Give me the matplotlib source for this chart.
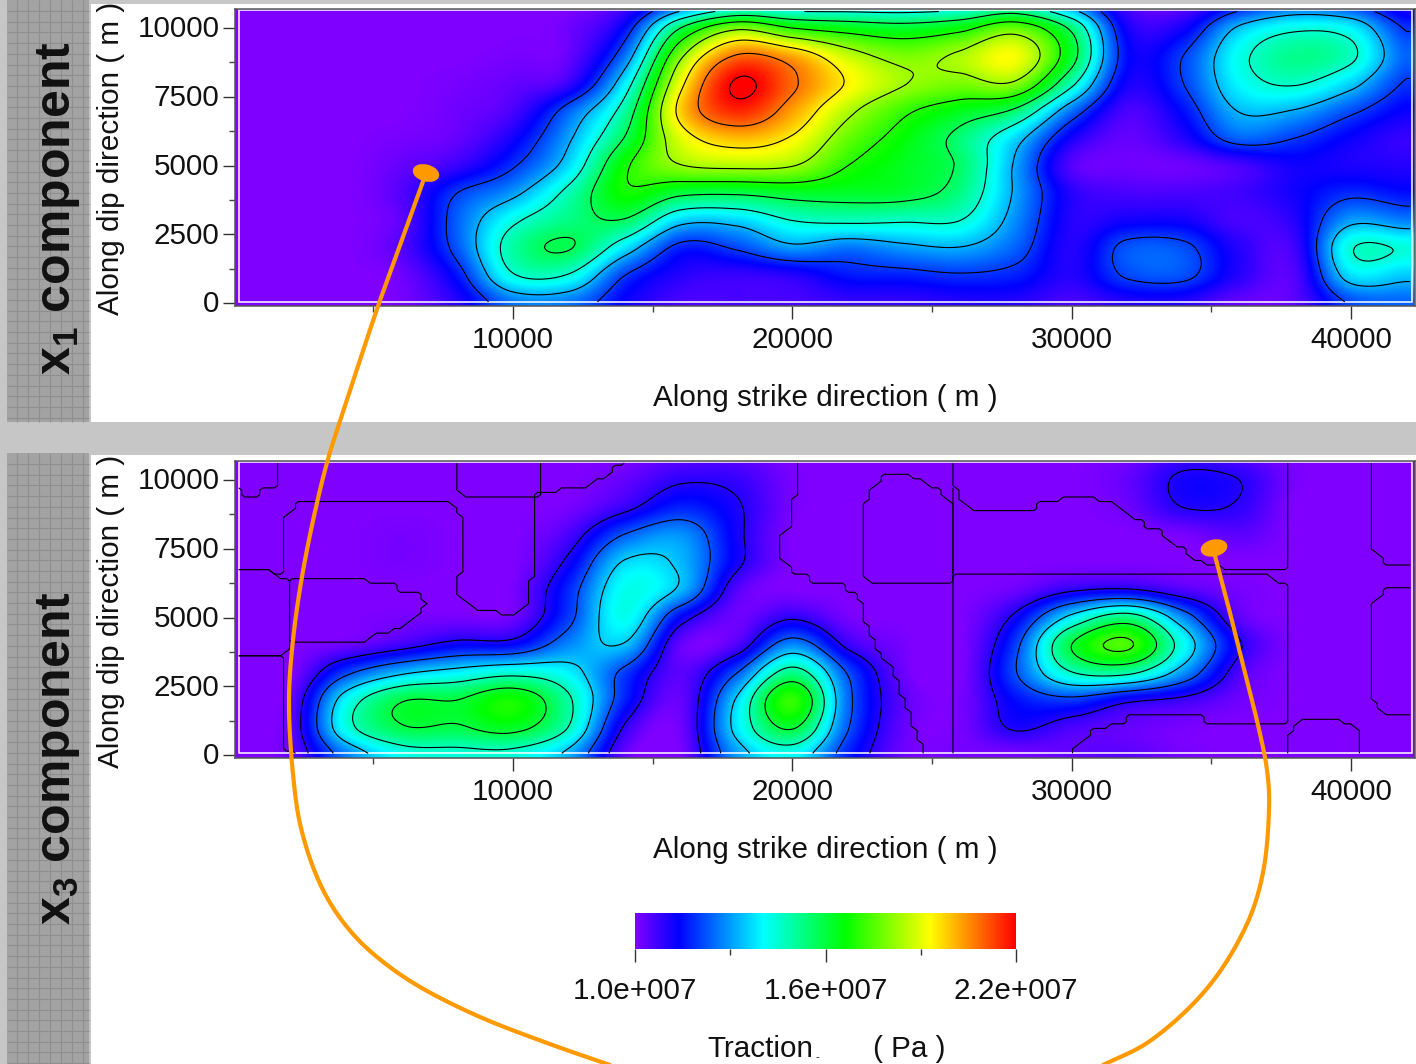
import numpy as np
import matplotlib
matplotlib.use("Agg")
import matplotlib.pyplot as plt
from matplotlib.colors import LinearSegmentedColormap, Normalize
from matplotlib.patches import Rectangle, Ellipse
from matplotlib.path import Path
from matplotlib.ticker import FixedLocator
from matplotlib.transforms import ScaledTranslation

plt.rcParams['font.family'] = ['Liberation Sans', 'DejaVu Sans']
plt.rcParams['mathtext.fontset'] = 'custom'
plt.rcParams['mathtext.bf'] = 'Liberation Sans:bold'
plt.rcParams['mathtext.rm'] = 'Liberation Sans'

# ---------- data: traction in units of 1e7 Pa ----------
strike_nodes = np.arange(0, 44000, 2000)      # 22 columns
dip_nodes = np.arange(0, 12000, 1000)         # 12 rows

x1_traction = np.array([
 [1,1,1,1.01,1.10,1.26,1.26,1.13,1.06,1.06,1.06,1.08,1.08,1.10,1.10,1.06,1.10,1.10,1.03,1.04,1.21,1.24],
 [1,1,1,1.02,1.16,1.44,1.44,1.20,1.10,1.08,1.10,1.16,1.17,1.19,1.17,1.10,1.21,1.22,1.10,1.05,1.37,1.35],
 [1,1,1,1.05,1.23,1.50,1.58,1.38,1.17,1.21,1.30,1.26,1.30,1.32,1.24,1.10,1.225,1.22,1.10,1.07,1.44,1.44],
 [1,1,1,1.04,1.24,1.43,1.53,1.565,1.36,1.36,1.45,1.47,1.46,1.45,1.285,1.10,1.12,1.12,1.06,1.10,1.30,1.27],
 [1,1,1,1.05,1.20,1.30,1.48,1.68,1.60,1.59,1.62,1.62,1.61,1.53,1.31,1.10,1.06,1.06,1.07,1.12,1.18,1.15],
 [1,1,1,1.03,1.08,1.19,1.37,1.68,1.82,1.85,1.83,1.70,1.63,1.56,1.31,1.05,1.02,1.02,1.06,1.12,1.11,1.10],
 [1,1,1,1.01,1.03,1.12,1.31,1.58,1.90,2.00,1.94,1.77,1.66,1.545,1.365,1.12,1.03,1.10,1.24,1.20,1.13,1.08],
 [1,1,1,1,1.02,1.06,1.24,1.50,1.98,2.16,2.03,1.85,1.72,1.64,1.555,1.26,1.06,1.15,1.33,1.32,1.22,1.13],
 [1,1,1,1,1.01,1.03,1.08,1.39,1.92,2.21,2.09,1.94,1.83,1.79,1.81,1.48,1.12,1.20,1.40,1.46,1.36,1.19],
 [1,1,1,1,1,1.01,1.03,1.26,1.80,2.08,2.02,1.87,1.79,1.84,1.92,1.62,1.15,1.20,1.42,1.52,1.47,1.24],
 [1,1,1,1,1,1,1.02,1.15,1.575,1.80,1.70,1.65,1.62,1.665,1.77,1.55,1.12,1.12,1.34,1.43,1.40,1.19],
 [1,1,1,1,1,1,1,1.05,1.20,1.33,1.33,1.34,1.34,1.36,1.42,1.25,1.05,1.02,1.13,1.22,1.18,1.08],
])
x1_levels = [1.2, 1.325, 1.45, 1.575, 1.7, 1.825, 1.95, 2.075, 2.2]

x3_traction = np.array([
 [1,1.03,1.27,1.42,1.44,1.44,1.32,1.03,1.01,1.30,1.41,1.17,1.02,1.01,1.01,1.03,1.04,1.01,1,1,1,1],
 [1,1.04,1.43,1.59,1.59,1.63,1.47,1.09,1.02,1.38,1.61,1.23,1.03,1.01,1.11,1.06,1.03,1.01,1,1,1,1],
 [1,1.03,1.40,1.59,1.60,1.68,1.49,1.17,1.03,1.36,1.715,1.25,1.04,1.01,1.15,1.20,1.12,1.08,1.02,1,1,1],
 [1,1.00,1.20,1.33,1.39,1.44,1.39,1.20,1.04,1.22,1.52,1.215,1.02,1.00,1.22,1.47,1.50,1.30,1.06,1,1,1],
 [1,1.00,1.02,1.07,1.13,1.14,1.28,1.34,1.03,1.05,1.28,1.08,1.01,1.00,1.20,1.60,1.74,1.42,1.11,1,1,1],
 [1,1.00,1.00,1.01,1.01,1.02,1.20,1.42,1.14,1.02,1.09,1.01,1.00,1.00,1.12,1.38,1.53,1.28,1.04,1,1,1],
 [1,1.00,1.00,1.00,1.00,1.01,1.18,1.42,1.33,1.05,1.00,1.00,1.00,1.00,1.02,1.09,1.11,1.05,1.01,1,1,1],
 [1,1.00,1.00,1.01,1.00,1.00,1.12,1.36,1.33,1.12,1.00,1.00,1.00,1.00,1.00,1.00,1.00,1.00,1.00,1,1,1],
 [1,1.00,1.00,1.01,1.00,1.00,1.06,1.23,1.29,1.12,1.00,1.00,1.00,1.00,1.00,1.00,1.00,1.01,1.04,1,1,1],
 [1,1.00,1.00,1.00,1.00,1.00,1.01,1.08,1.17,1.11,1.01,1.00,1.00,1.00,1.00,1.00,1.02,1.10,1.09,1,1,1],
 [1,1.00,1.00,1.00,1.00,1.00,1.00,1.03,1.09,1.08,1.01,1.00,1.00,1.00,1.00,1.00,1.03,1.115,1.10,1.01,1,1],
 [1,1.00,1.00,1.00,1.00,1.00,1.00,1.00,1.03,1.03,1.00,1.00,1.00,1.00,1.00,1.00,1.01,1.06,1.04,1,1,1],
])
x3_levels = [1.1, 1.225, 1.35, 1.475, 1.6, 1.725]

# plateau zones of the x3 field (strike m, dip m), bounded by the lowest contour
x3_plateau_zones = [
 [(-500,6787),(1307,6787),(1444,6560),(1800,6560),(1828,6787),(1828,8666),(1993,8787),(2198,9030),(2472,9272),
  (7788,9272),(7952,8787),(8185,8605),(8185,6545),(7952,6424),(7952,5818),(8363,5636),(8637,5297),(9322,5272),
  (9459,5066),(10076,5066),(10555,5575),(10555,6424),(10788,6545),(10788,9514),(11514,9514),(11651,9757),
  (12747,9757),(12884,10000),(13364,10120),(13775,10605),(14185,10654),(14185,11000),(-500,11000)],
 [(-500,11000),(1472,11000),(1472,9781),(965,9636),(828,9393),(417,9393),(198,9636),(-500,9636)],
 [(-500,6787),(1307,6787),(1444,6545),(1965,6387),(1965,3818),(1856,3672),(-500,3672)],
 [(1965,6424),(4801,6424),(4938,6181),(5829,6181),(5966,5903),(6582,5903),(6925,5515),(6240,4788),
  (5692,4545),(4938,4303),(4801,4060),(1993,4060)],
 [(-500,3672),(1856,3672),(1828,121),(2130,121),(2130,-500),(-500,-500)],
 [(8048,11000),(8048,9514),(8185,9393),(10829,9393),(10925,9514),(10925,11000)],
 [(20282,11000),(20145,10363),(20077,9272),(19871,9151),(19871,8242),(19624,8121),(19624,7030),(19871,6848),
  (19871,6545),(20488,6545),(20625,6303),(21740,6278),(21876,6024),(22352,5903),(22420,5515),(22624,5394),
  (22624,4788),(22828,4666),(22896,4060),(23101,3818),(23169,3454),(23577,3212),(23645,2788),(23849,2667),
  (23917,2182),(24121,2121),(24121,1576),(24325,1394),(24394,606),(24598,424),(24598,-500),(25727,-500),(25727,11000)],
 [(22488,6545),(22488,9090),(22692,9272),(22692,9575),(23101,9939),(23373,10242),(24189,10242),(24325,10000),
  (24734,9939),(24870,9757),(25210,9733),(25346,9514),(25686,9211),(25850,9090),(25850,6484),(25482,6181),
  (22896,6181),(22692,6424)],
 [(25727,11000),(25727,9878),(25959,9575),(26027,9272),(26367,8884),(28681,8884),(28817,9151),(29497,9151),
  (29592,9393),(30926,9393),(31062,9175),(31675,9127),(32083,8666),(32423,8605),(32832,8181),(33172,8181),
  (33580,7636),(33920,7636),(34261,7212),(34805,6909),(35418,6909),(35554,6666),(37663,6666),(37799,6787),(37799,11000)],
 [(25727,6509),(37119,6509),(37323,6303),(37663,6266),(37799,6145),(37799,1333),(37663,1188),(34805,1188),
  (34669,1430),(32083,1430),(31947,1212),(31335,1176),(31198,970),(30790,933),(30518,667),(30246,424),
  (29974,85),(29900,-500),(25727,-500)],
 [(37663,-500),(37663,727),(37868,848),(38208,1273),(38344,1333),(39636,1333),(39841,1091),(40181,1055),(40290,909),(40290,-500)],
 [(40657,11000),(40657,7575),(40998,7333),(41297,6909),(42500,6909),(42500,11000)],
 [(42500,6024),(41270,6024),(40998,5757),(40657,5394),(40657,2121),(40998,1757),(41297,1430),(42500,1430)],
]

color_stops = [0.0, 0.115, 0.336, 0.553, 0.775, 1.0]
color_names = ['#7f00ff', '#0000ff', '#00ffff', '#00ff00', '#ffff00', '#ff0000']
x_major = [10000, 20000, 30000, 40000]
x_minor = [5000, 15000, 25000, 35000]
y_major = [0, 2500, 5000, 7500, 10000]
y_minor = [1250, 3750, 6250, 8750]
bar_major = [1.0, 1.6, 2.2]
bar_minor = [1.3, 1.9]
bar_labels = ['1.0e+007', '1.6e+007', '2.2e+007']

# orange annotation curves, in picture pixels
curve_a = [(425,176),(400,245),(375,315),(347,400),(325,470),(305,560),(293,640),(289,710),(295,793),
           (305,843),(323,890),(347,927),(377,957),(420,987),(480,1017),(547,1043),(610,1065)]
curve_b = [(1214,552),(1228,605),(1243,665),(1258,725),(1267,770),(1269,810),(1264,867),(1250,917),
           (1223,967),(1190,1007),(1147,1043),(1103,1065)]

W, H = 1416, 1064
fig = plt.figure(figsize=(W/100, H/100), dpi=100, facecolor='white')
FS = 21.3
TXT = '#111111'

def fx(p): return p / W
def fy(p): return 1 - p / H

# ---------- page background ----------
bg = fig.add_axes([0, 0, 1, 1], zorder=-5)
bg.set_xlim(0, W); bg.set_ylim(H, 0); bg.axis('off')
bg.add_patch(Rectangle((0, 0), W, 4, color='#c6c6c6', lw=0))
bg.add_patch(Rectangle((0, 422), W, 33, color='#c6c6c6', lw=0))
bg.add_patch(Rectangle((0, 0), 91, H, color='#c6c6c6', lw=0))
for top, bot in [(0, 422), (453, H)]:
    bg.add_patch(Rectangle((7, top), 82, bot - top, color='#a3a3a3', lw=0))
    bg.vlines(np.arange(17.3, 89, 10.9), top, bot, color='#8e8e8e', lw=0.8)
    bg.hlines(np.arange(top + 11, bot, 10.7), 7, 89, color='#8e8e8e', lw=0.8)

# ---------- colours ----------
cmap = LinearSegmentedColormap.from_list('rb', list(zip(color_stops, color_names)), N=512)
norm = Normalize(1.0, 2.2)

def smooth_axis(a, nodes, q, axis):
    h = nodes[1] - nodes[0]
    s = (q - nodes[0]) / h
    i = np.clip(np.floor(s).astype(int), 0, len(nodes) - 2)
    t = np.clip(s - i, 0, 1)
    n = len(nodes) - 1
    p0 = np.take(a, np.clip(i - 1, 0, n), axis)
    p1 = np.take(a, i, axis)
    p2 = np.take(a, i + 1, axis)
    p3 = np.take(a, np.clip(i + 2, 0, n), axis)
    shape = [1, 1]; shape[axis] = -1
    t = t.reshape(shape)
    return 0.5 * (2*p1 + (p2 - p0)*t + (2*p0 - 5*p1 + 4*p2 - p3)*t**2 + (3*p1 - p0 - 3*p2 + p3)*t**3)

def fine_field(z, qx, qy):
    f = smooth_axis(z, dip_nodes, qy, 0)
    f = smooth_axis(f, strike_nodes, qx, 1)
    return np.clip(f, 1.0, None)

PX_X = 35.804   # metres per pixel along strike
PX_Y = 36.364   # metres per pixel along dip

def panel(py_top, py_bot, py_zero, z, levels, domain, zones=None):
    ax = fig.add_axes([fx(235), fy(py_bot), (1415 - 235) / W, (py_bot - py_top) / H])
    xlim = (10000 + (235 - 513) * PX_X, 10000 + (1415 - 513) * PX_X)
    ylim = ((py_zero - py_bot) * PX_Y, (py_zero - py_top) * PX_Y)
    qx = np.linspace(xlim[0], xlim[1], 590)
    qy = np.linspace(ylim[0], ylim[1], 300)
    im = ax.imshow(fine_field(z, qx, qy), origin='lower', extent=[*xlim, *ylim], aspect='auto',
                   cmap=cmap, norm=norm, interpolation='bilinear')
    x0, x1, y0, y1 = domain
    cx = np.arange(x0, x1 + 1, 60.0)
    cy = np.arange(y0, y1 + 1, 60.0)
    ax.contour(cx, cy, fine_field(z, cx, cy), levels=levels, colors='black', linewidths=0.8)
    if zones:
        sx = np.arange(x0, x1 + 1, 214.0)
        sy = np.arange(y0, y1 + 1, 165.0)
        gx, gy = np.meshgrid(sx, sy)
        pts = np.column_stack([gx.ravel(), gy.ravel()])
        masks = [Path(zone).contains_points(pts).reshape(gx.shape) for zone in zones]
        for k, m in enumerate(masks):
            data = m.astype(float)
            if k == 6:   # its edge is shared with the two rectangular zones: do not draw it twice
                data = np.ma.array(data, mask=masks[8] | masks[9])
            ax.contour(sx, sy, data, levels=[0.5], colors='black', linewidths=0.8)
    ax.add_patch(Rectangle((x0, y0), x1 - x0, y1 - y0, fill=False, ec='white', lw=1.1))
    ax.set_xlim(*xlim); ax.set_ylim(*ylim)
    ax.xaxis.set_major_locator(FixedLocator(x_major))
    ax.xaxis.set_minor_locator(FixedLocator(x_minor))
    ax.yaxis.set_major_locator(FixedLocator(y_major))
    ax.yaxis.set_minor_locator(FixedLocator(y_minor))
    ax.tick_params(which='major', length=9, width=1, color='#333333', labelsize=FS, labelcolor=TXT)
    ax.tick_params(which='minor', length=4.5, width=1, color='#444444')
    ax.tick_params(axis='x', which='major', pad=5.5)
    ax.tick_params(axis='y', which='major', pad=2)
    for s in ax.spines.values():
        s.set_color('#555555'); s.set_linewidth(1.1)
    shift = ScaledTranslation(0, -1.3 / 100, fig.dpi_scale_trans)
    for t in ax.get_yticklabels():
        t.set_verticalalignment('center')
        t.set_transform(t.get_transform() + shift)
    return im

im1 = panel(9, 306, 303, x1_traction, x1_levels, (180, 42170, 40, 10650))
im2 = panel(461, 758, 755, x3_traction, x3_levels, (180, 42170, 60, 10660), x3_plateau_zones)

fig.text(fx(825), fy(398), 'Along strike direction ( m )', ha='center', va='center', fontsize=FS, color=TXT)
fig.text(fx(825), fy(850), 'Along strike direction ( m )', ha='center', va='center', fontsize=FS, color=TXT)
fig.text(fx(111), fy(158), 'Along dip direction ( m )', rotation=90, ha='center', va='center', fontsize=FS, color=TXT)
fig.text(fx(111), fy(611), 'Along dip direction ( m )', rotation=90, ha='center', va='center', fontsize=FS, color=TXT)

fig.text(fx(59), fy(375), r'$\mathbf{x_{1}}$ component', rotation=90, ha='center', va='bottom',
         fontsize=36, fontweight='bold', color='#111111')
fig.text(fx(59), fy(925), r'$\mathbf{x_{3}}$ component', rotation=90, ha='center', va='bottom',
         fontsize=36, fontweight='bold', color='#111111')

# ---------- colour bar ----------
cax = fig.add_axes([fx(635), fy(949), (1016 - 635) / W, 36 / H])
cb = fig.colorbar(im1, cax=cax, orientation='horizontal')
cb.outline.set_visible(False)
cb.set_ticks(bar_major)
cb.set_ticklabels(bar_labels)
cax.xaxis.set_minor_locator(FixedLocator(bar_minor))
cax.tick_params(which='major', length=9, width=1, color='#333333', labelsize=FS, labelcolor=TXT, pad=11)
cax.tick_params(which='minor', length=4.5, width=1, color='#333333')
fig.text(fx(707), fy(1049), 'Traction', ha='left', va='center', fontsize=FS, color=TXT)
fig.text(fx(817), fy(1057), '-', ha='center', va='center', fontsize=8, color=TXT)
fig.text(fx(873), fy(1049), '( Pa )', ha='left', va='center', fontsize=FS, color=TXT)

# ---------- orange annotation ----------
ov = fig.add_axes([0, 0, 1, 1], zorder=20)
ov.set_xlim(0, W); ov.set_ylim(H, 0); ov.axis('off'); ov.patch.set_alpha(0)
def spline(pts):
    p = np.array(pts, float)
    p = np.vstack([2*p[0] - p[1], p, 2*p[-1] - p[-2]])
    out = []
    for k in range(1, len(p) - 2):
        t = np.linspace(0, 1, 20)[:, None]
        out.append(0.5 * (2*p[k] + (p[k+1] - p[k-1])*t + (2*p[k-1] - 5*p[k] + 4*p[k+1] - p[k+2])*t**2
                          + (3*p[k] - p[k-1] - 3*p[k+1] + p[k+2])*t**3))
    return np.vstack(out)
for c in (curve_a, curve_b):
    s = spline(c)
    ov.plot(s[:, 0], s[:, 1], color='#ff9900', lw=3.0, solid_capstyle='round')
ov.add_patch(Ellipse((426, 173), 27, 17, angle=15, color='#ff9900', lw=0))
ov.add_patch(Ellipse((1214, 548), 27, 17, angle=-12, color='#ff9900', lw=0))

fig.savefig('out.png', dpi=100, facecolor='white')
